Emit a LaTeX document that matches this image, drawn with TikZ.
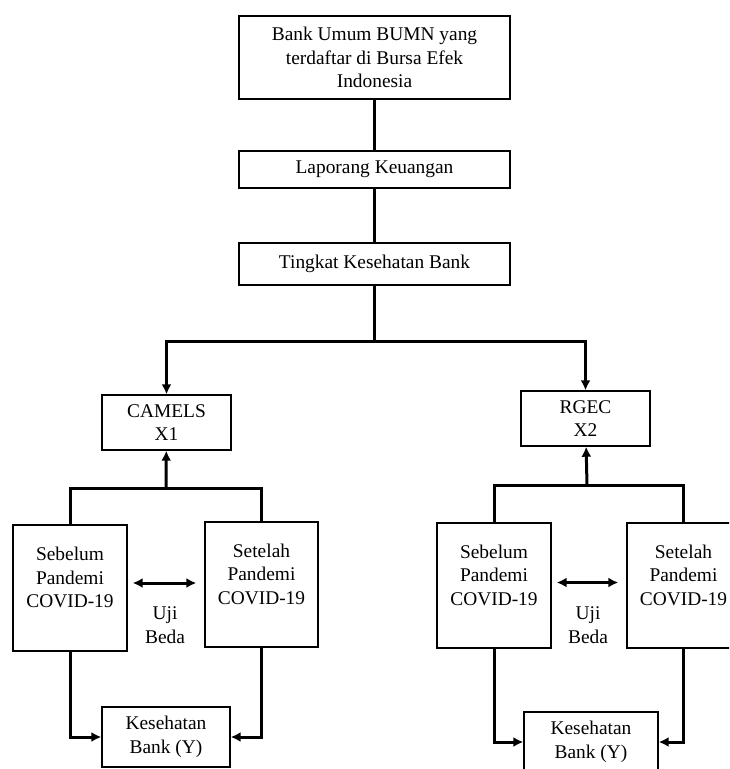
\documentclass[tikz,border=0pt]{standalone}
\usepackage{fontspec}
\setmainfont{Liberation Serif}
\usetikzlibrary{arrows.meta}

\begin{document}
\begin{tikzpicture}[
    x=1pt, y=-1pt,
    box/.style={draw, line width=1.4pt, align=center, inner sep=0pt,
        font=\fontsize{19.4}{23.5}\selectfont},
    link/.style={line width=3pt},
    flow/.style={line width=3pt, -{Latex[length=10pt, width=10pt]}},
    both/.style={line width=3pt, {Latex[length=10pt, width=10pt]}-{Latex[length=10pt, width=10pt]},
        shorten <=5pt, shorten >=8pt},
    note/.style={align=center, inner sep=0pt, font=\fontsize{19.4}{23.5}\selectfont},
]
    \clip (0,0) rectangle (729,769);

    % alur atas
    \node[box, minimum width=271pt, minimum height=83pt] (bumn) at (374.5,57.5)
        {Bank Umum BUMN yang\\terdaftar di Bursa Efek\\Indonesia};
    \node[box, minimum width=271pt, minimum height=37pt] (lapor) at (374.5,169.5) {Laporang Keuangan};
    \node[box, minimum width=271pt, minimum height=42pt] (sehat) at (374.5,264) {Tingkat Kesehatan Bank};
    \coordinate (fork) at (374.5,341);

    \node[box, minimum width=129pt, minimum height=55pt] (camels) at (166.5,422.5) {CAMELS\\X1};
    \node[box, minimum width=129pt, minimum height=55pt] (rgec) at (585.5,418.5) {RGEC\\X2};

    \draw[link] (bumn) -- (lapor);
    \draw[link] (lapor) -- (sehat);
    \draw[link] (sehat) -- (fork);
    \draw[flow] (fork) -| (camels);
    \draw[flow] (fork) -| (rgec);

    % sisi kiri
    \node[box, minimum width=114pt, minimum height=126pt] (preA) at (70,588) {Sebelum\\Pandemi\\COVID-19\\[-3pt]};
    \node[box, minimum width=113pt, minimum height=125pt] (postA) at (261.5,584.5) {Setelah\\Pandemi\\COVID-19\\[-3pt]};
    \node[box, minimum width=128pt, minimum height=60pt] (yA) at (166,737) {Kesehatan\\Bank (Y)};
    \node[note] (ujiA) at (165,625) {Uji\\Beda};
    \coordinate (forkA) at (166,488);

    \draw[link] (preA) |- (forkA) -| (postA);
    \draw[flow] (forkA) -- (camels);
    \draw[both] ([yshift=5pt]preA.east) -- ([yshift=5pt]preA.east -| postA.west);
    \draw[flow] (preA) |- (yA);
    \draw[flow] (postA) |- (yA);

    % sisi kanan
    \node[box, minimum width=114pt, minimum height=125pt] (preB) at (494,585.5) {Sebelum\\Pandemi\\COVID-19\\[-3pt]};
    \node[box, minimum width=113pt, minimum height=125pt] (postB) at (683.5,585.5) {Setelah\\Pandemi\\COVID-19\\[-3pt]};
    \node[box, minimum width=134pt, minimum height=60pt] (yB) at (591,742) {Kesehatan\\Bank (Y)};
    \node[note] (ujiB) at (588,625) {Uji\\Beda};
    \coordinate (forkB) at (587,485);

    \draw[link] (preB) |- (forkB) -| (postB);
    \draw[flow] (forkB) -- (rgec);
    \draw[both] ([yshift=3pt]preB.east) -- ([yshift=3pt]preB.east -| postB.west);
    \draw[flow] (preB) |- (yB);
    \draw[flow] (postB) |- (yB);
\end{tikzpicture}
\end{document}
